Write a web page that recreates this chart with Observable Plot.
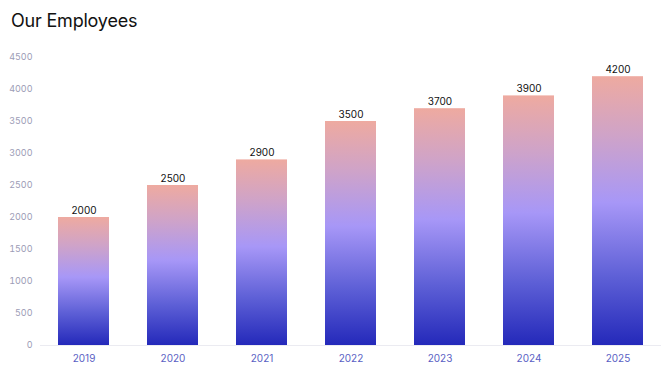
<!DOCTYPE html>
<html>
<head>
<meta charset="utf-8">
<script src="https://cdn.jsdelivr.net/npm/d3@7"></script>
<script src="https://cdn.jsdelivr.net/npm/@observablehq/plot@0.6"></script>
<style>
  body { margin: 0; background: #fff; width: 671px; height: 378px; overflow: hidden; font-family: Inter, "Noto Sans", sans-serif; }
  #title { height: 40px; box-sizing: border-box; padding: 10px 0 0 11px; font-size: 18px; line-height: 22px; color: #111; letter-spacing: -0.2px; font-weight: 400; }
</style>
</head>
<body>
<div id="title">Our Employees</div>
<div id="chart"></div>
<script>
const years = ["2019", "2020", "2021", "2022", "2023", "2024", "2025"];
const employees = [2000, 2500, 2900, 3500, 3700, 3900, 4200];
const yTicks = [0, 500, 1000, 1500, 2000, 2500, 3000, 3500, 4000, 4500];

const data = years.map((y, i) => ({year: y, value: employees[i]}));

const chart = Plot.plot({
  width: 671,
  height: 338,
  marginTop: 17,
  marginBottom: 33,
  marginLeft: 40,
  marginRight: 10,
  style: {fontFamily: "Inter, 'Noto Sans', sans-serif", background: "transparent"},
  x: {domain: years, paddingInner: 0.43, paddingOuter: 0.2, label: null, tickSize: 0, tickPadding: 9},
  y: {domain: [0, 4500], ticks: yTicks, label: null, tickSize: 0, tickPadding: 8},
  marks: [
    Plot.ruleY([0], {stroke: "#ebebf1", strokeWidth: 1}),
    Plot.barY(data, {x: "year", y: "value", fill: "url(#barGrad)"}),
    Plot.text(data, {x: "year", y: "value", text: d => String(d.value), dy: -7, fill: "#111", fontSize: 10}),
    Plot.axisY({ticks: yTicks, tickFormat: d => String(d), tickSize: 0, tickPadding: 8, fill: "#9c9cb6", fontSize: 9, label: null}),
    Plot.axisX({tickSize: 0, tickPadding: 9, fill: "#5a5fc4", fontSize: 10, label: null})
  ]
});

const svg = d3.select(chart);
const defs = svg.insert("defs", ":first-child");
const grad = defs.append("linearGradient").attr("id", "barGrad")
  .attr("x1", 0).attr("y1", 0).attr("x2", 0).attr("y2", 1);
grad.append("stop").attr("offset", "0%").attr("stop-color", "#eeaaa0");
grad.append("stop").attr("offset", "22%").attr("stop-color", "#cfa3c8");
grad.append("stop").attr("offset", "47%").attr("stop-color", "#a797f7");
grad.append("stop").attr("offset", "75%").attr("stop-color", "#5d5fd6");
grad.append("stop").attr("offset", "100%").attr("stop-color", "#2429ba");

document.getElementById("chart").appendChild(chart);
</script>
</body>
</html>
